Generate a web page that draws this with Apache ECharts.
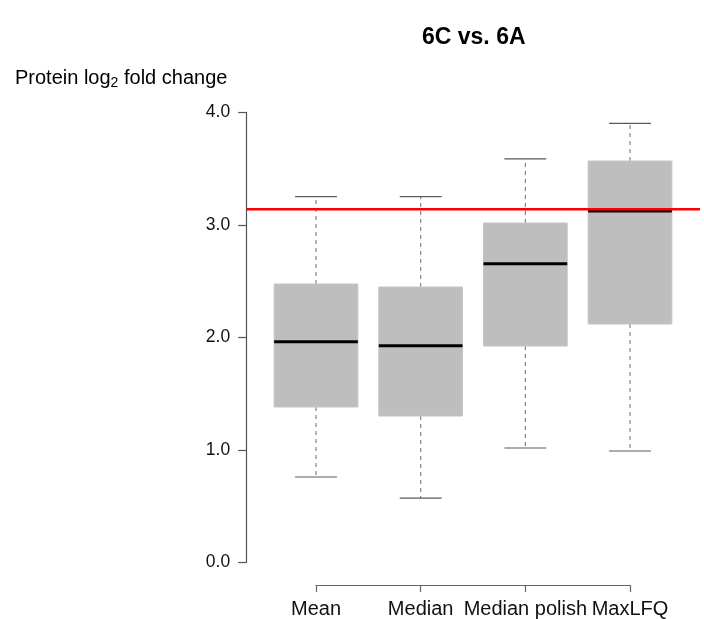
<!DOCTYPE html>
<html>
<head>
<meta charset="utf-8">
<script src="https://cdn.jsdelivr.net/npm/echarts@6/dist/echarts.min.js"></script>
<style>
  html, body { margin: 0; padding: 0; background: #fff; }
  #chart { width: 704px; height: 619px; }
</style>
</head>
<body>
<div id="chart"></div>
<script>
// Summarisation methods compared on the x axis
const categories = ['Mean', 'Median', 'Median polish', 'MaxLFQ'];

// Box statistics per method (log2 fold change)
const whiskerLow  = [0.76, 0.573, 1.018, 0.991];
const quartile1   = [1.382, 1.302, 1.924, 2.12];
const medians     = [1.963, 1.927, 2.656, 3.124];
const quartile3   = [2.476, 2.449, 3.018, 3.569];
const whiskerHigh = [3.252, 3.252, 3.587, 3.904];

// Expected log2 fold change reference line
const expectedRatio = 3.14;

// y axis range and tick step
const yMin = 0, yMax = 4, yStep = 1;

const FONT = "'Liberation Sans', Arial, Helvetica, sans-serif";

const boxData = categories.map((c, i) => [i, whiskerLow[i], quartile1[i], medians[i], quartile3[i], whiskerHigh[i]]);

function renderBox(params, api) {
  const i = api.value(0);
  const band = api.size([1, 0])[0];
  const half = band * 0.4;
  const capHalf = half / 2;
  const pLo = api.coord([i, api.value(1)]);
  const pQ1 = api.coord([i, api.value(2)]);
  const pMed = api.coord([i, api.value(3)]);
  const pQ3 = api.coord([i, api.value(4)]);
  const pHi = api.coord([i, api.value(5)]);
  const cx = pMed[0];
  const whisker = { stroke: '#7a7a7a', lineWidth: 1.1, lineDash: [4, 4] };
  const cap = { stroke: '#5a5a5a', lineWidth: 1.2 };
  return {
    type: 'group',
    children: [
      { type: 'line', shape: { x1: cx, y1: pQ3[1], x2: cx, y2: pHi[1] }, style: whisker },
      { type: 'line', shape: { x1: cx, y1: pQ1[1], x2: cx, y2: pLo[1] }, style: whisker },
      { type: 'line', shape: { x1: cx - capHalf, y1: pHi[1], x2: cx + capHalf, y2: pHi[1] }, style: cap },
      { type: 'line', shape: { x1: cx - capHalf, y1: pLo[1], x2: cx + capHalf, y2: pLo[1] }, style: cap },
      { type: 'rect', shape: { x: cx - half, y: pQ3[1], width: half * 2, height: pQ1[1] - pQ3[1] },
        style: { fill: '#bebebe', stroke: '#c6c6c6', lineWidth: 1 } },
      { type: 'line', shape: { x1: cx - half, y1: pMed[1], x2: cx + half, y2: pMed[1] },
        style: { stroke: '#000', lineWidth: 3 } }
    ]
  };
}

const chart = echarts.init(document.getElementById('chart'), null, { renderer: 'canvas' });

chart.setOption({
  animation: false,
  backgroundColor: '#fff',
  title: [
    {
      text: '6C vs. 6A',
      left: 417, top: 21,
      textStyle: { fontFamily: FONT, fontSize: 23, fontWeight: 'bold', color: '#000' }
    },
    {
      text: 'Protein log{s|2} fold change',
      left: 10, top: 62,
      textStyle: {
        fontFamily: FONT, fontSize: 20, fontWeight: 'normal', color: '#000',
        rich: { s: { fontFamily: FONT, fontSize: 14, color: '#000', padding: [9, 0, 0, 0] } }
      }
    }
  ],
  grid: [
    { left: 263.67, width: 418.67, top: 112.5, height: 450 },
    { left: 316, width: 314, top: 560, height: 25 },
    { left: 246.67, right: 4, top: 112.5, height: 450 }
  ],
  xAxis: [
    { gridIndex: 0, type: 'category', data: categories, show: false },
    {
      gridIndex: 1, type: 'category', data: categories, boundaryGap: false,
      axisLine: { lineStyle: { color: '#666', width: 1.2 } },
      axisTick: { length: 7, lineStyle: { color: '#666', width: 1.2 } },
      axisLabel: { fontFamily: FONT, fontSize: 20, color: '#111', margin: 14, interval: 0 }
    },
    { gridIndex: 2, type: 'value', min: 0, max: 1, show: false }
  ],
  yAxis: [
    {
      gridIndex: 0, type: 'value', min: yMin, max: yMax, interval: yStep, offset: 17,
      axisLine: { show: true, lineStyle: { color: '#555', width: 1.2 } },
      axisTick: { show: true, length: 8.5, lineStyle: { color: '#555', width: 1.2 } },
      axisLabel: { fontFamily: FONT, fontSize: 17.5, color: '#111', margin: 16.5, formatter: v => v.toFixed(1) },
      splitLine: { show: false }
    },
    { gridIndex: 1, type: 'value', show: false },
    { gridIndex: 2, type: 'value', min: yMin, max: yMax, show: false }
  ],
  series: [
    {
      type: 'custom', xAxisIndex: 0, yAxisIndex: 0,
      renderItem: renderBox,
      encode: { x: 0, y: [1, 2, 3, 4, 5] },
      data: boxData, z: 2
    },
    {
      type: 'line', xAxisIndex: 2, yAxisIndex: 2,
      data: [[0, expectedRatio], [1, expectedRatio]],
      symbol: 'none', lineStyle: { color: '#ff0000', width: 2.6 }, z: 5,
      silent: true
    }
  ]
});
</script>
</body>
</html>
